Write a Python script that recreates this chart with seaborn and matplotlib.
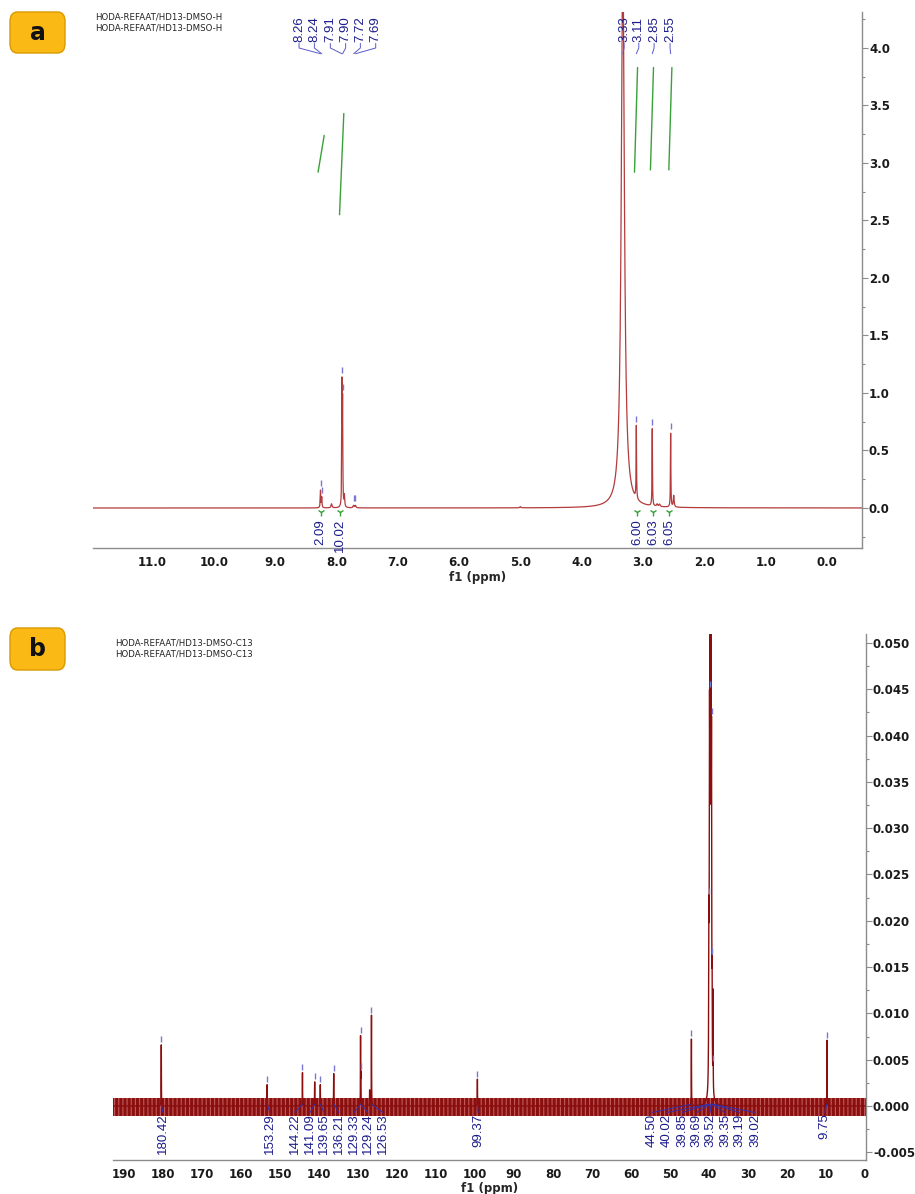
import matplotlib

matplotlib.use("Agg")
import matplotlib.pyplot as plt
import numpy as np
import pandas as pd
import seaborn as sns
from matplotlib.patches import FancyBboxPatch
from matplotlib.ticker import FormatStrFormatter, MultipleLocator


# ---- panel a : 1H NMR (DMSO) ----
h_peak_ppm = [8.26, 8.24, 8.08, 7.91, 7.90, 7.87, 7.72, 7.69, 5.00, 3.33, 3.11, 2.85, 2.77, 2.73, 2.55, 2.50]
h_peak_height = [0.15, 0.09, 0.035, 1.02, 0.85, 0.10, 0.02, 0.02, 0.01, 4.80, 0.63, 0.67, 0.02, 0.02, 0.64, 0.10]
h_peak_width = [0.005, 0.005, 0.01, 0.004, 0.004, 0.006, 0.01, 0.01, 0.01, 0.030, 0.004, 0.004, 0.01, 0.01, 0.004, 0.008]

h_pick_ppm = [8.26, 8.24, 7.91, 7.90, 7.72, 7.69, 3.33, 3.11, 2.85, 2.55]
h_pick_text = ["8.26", "8.24", "7.91", "7.90", "7.72", "7.69", "3.33", "3.11", "2.85", "2.55"]

h_int_text = ["2.09", "10.02", "6.00", "6.03", "6.05"]
h_int_ppm = [8.26, 7.95, 3.10, 2.84, 2.57]
h_int_x0 = [8.30, 7.95, 3.14, 2.88, 2.58]
h_int_x1 = [8.20, 7.88, 3.09, 2.83, 2.53]
h_int_y0 = [2.92, 2.55, 2.92, 2.94, 2.94]
h_int_y1 = [3.24, 3.43, 3.83, 3.83, 3.83]

# ---- panel b : 13C NMR (DMSO) ----
c_peak_ppm = [180.42, 153.29, 144.22, 141.09, 139.65, 136.21, 129.33, 129.24, 127.00, 126.53, 99.37,
              44.50, 40.02, 39.85, 39.69, 39.52, 39.35, 39.19, 38.95, 9.75]
c_peak_height = [0.0066, 0.0023, 0.0036, 0.0026, 0.0023, 0.0035, 0.0073, 0.0030, 0.0017, 0.0098, 0.0029,
                 0.0072, 0.016, 0.034, 0.056, 0.056, 0.033, 0.009, 0.0105, 0.0071]
c_peak_width = [0.03] * 11 + [0.03, 0.06, 0.06, 0.06, 0.06, 0.06, 0.04, 0.03, 0.03]

c_pick_ppm = [180.42, 153.29, 144.22, 141.09, 139.65, 136.21, 129.33, 129.24, 126.53, 99.37,
              44.50, 40.02, 39.85, 39.69, 39.52, 39.35, 39.19, 39.02, 9.75]
c_pick_text = ["180.42", "153.29", "144.22", "141.09", "139.65", "136.21", "129.33", "129.24", "126.53", "99.37",
               "44.50", "40.02", "39.85", "39.69", "39.52", "39.35", "39.19", "39.02", "9.75"]
c_noise_lo = -0.0011
c_noise_hi = 0.0009

# label layout (spread positions, ppm)
H_LABEL_POS = [8.61, 8.36, 8.10, 7.85, 7.61, 7.36, 3.31, 3.07, 2.82, 2.56]
C_LABEL_POS = [180.0, 152.6, 146.2, 142.3, 138.7, 134.9, 131.0, 127.4, 123.6, 99.2,
               54.6, 50.8, 46.9, 43.1, 39.7, 35.9, 32.1, 28.2, 10.3]

FIG_W, FIG_H = 915, 1194
NAVY = "#1c1c8c"
PICK = "#7878d0"
GREEN = "#3aa03a"
AXIS_GRAY = "#8c8c8c"


def lorentz(x, centers, heights, widths):
    y = np.zeros_like(x)
    for c, h, w in zip(centers, heights, widths):
        y += h * w * w / (w * w + (x - c) ** 2)
    return y


def style_axis(ax, major_x, minor_x, major_y, minor_y, xfmt, yfmt, xlabel_pad):
    for side in ["top", "left"]:
        ax.spines[side].set_visible(False)
    for side in ["bottom", "right"]:
        ax.spines[side].set_color(AXIS_GRAY)
        ax.spines[side].set_linewidth(1.0)
    ax.yaxis.tick_right()
    ax.xaxis.set_major_locator(MultipleLocator(major_x))
    ax.xaxis.set_minor_locator(MultipleLocator(minor_x))
    ax.yaxis.set_major_locator(MultipleLocator(major_y))
    ax.yaxis.set_minor_locator(MultipleLocator(minor_y))
    ax.xaxis.set_major_formatter(FormatStrFormatter(xfmt))
    ax.yaxis.set_major_formatter(FormatStrFormatter(yfmt))
    ax.tick_params(axis="both", which="both", direction="out", color=AXIS_GRAY, labelsize=8.5,
                   labelcolor="#1a1a1a", width=0.8)
    ax.tick_params(axis="both", which="major", length=4)
    ax.tick_params(axis="both", which="minor", length=2.5)
    ax.tick_params(axis="x", pad=2)
    ax.tick_params(axis="y", pad=1)
    for lab in ax.get_xticklabels() + ax.get_yticklabels():
        lab.set_fontweight("bold")
    ax.set_ylabel("")
    ax.set_xlabel("f1 (ppm)", fontsize=8.5, fontweight="bold", labelpad=xlabel_pad)
    ax.grid(False)


def badge(fig, letter, x0, y0, x1, y1):
    box = FancyBboxPatch((x0 / FIG_W, 1 - y1 / FIG_H), (x1 - x0) / FIG_W, (y1 - y0) / FIG_H,
                         boxstyle="round,pad=0,rounding_size=0.008", transform=fig.transFigure,
                         facecolor="#fbb916", edgecolor="#d99a00", linewidth=1.0)
    fig.patches.append(box)
    fig.text((x0 + x1) / 2 / FIG_W, 1 - (y0 + y1) / 2 / FIG_H, letter, fontsize=17, fontweight="bold",
             ha="center", va="center", color="#111111")


def main():
    sns.set_style("white")
    plt.rcParams["font.family"] = ["DejaVu Sans"]
    plt.rcParams["hatch.linewidth"] = 0.8

    fig = plt.figure(figsize=(FIG_W / 100, FIG_H / 100), dpi=100)

    # ---------------- panel a ----------------
    ax1 = fig.add_axes([93 / FIG_W, 1 - 548 / FIG_H, (862 - 93) / FIG_W, (548 - 12) / FIG_H])
    xh = np.arange(-0.6, 12.05, 0.0005)
    df_h = pd.DataFrame({"ppm": xh, "intensity": lorentz(xh, h_peak_ppm, h_peak_height, h_peak_width)})
    sns.lineplot(data=df_h, x="ppm", y="intensity", ax=ax1, color="#b33b3b", linewidth=0.9, estimator=None)
    ax1.set_xlim(11.97, -0.57)
    ax1.set_ylim(-0.348, 4.313)
    style_axis(ax1, 1.0, 0.25, 0.5, 0.25, "%.1f", "%.1f", 1.0)

    # integral curves
    for x0, x1, y0, y1 in zip(h_int_x0, h_int_x1, h_int_y0, h_int_y1):
        ax1.plot([x0, x1], [y0, y1], color=GREEN, linewidth=1.0)
    # integral labels under baseline
    for txt, p in zip(h_int_text, h_int_ppm):
        ax1.plot([p], [-0.035], marker="1", color=GREEN, markersize=6, clip_on=False)
        ax1.text(p, -0.095, txt, rotation=90, ha="center", va="top", color=NAVY, fontsize=9.5,
                 family="Liberation Sans", clip_on=False)

    # peak picks
    for p, txt, lp in zip(h_pick_ppm, h_pick_text, H_LABEL_POS):
        ytop = lorentz(np.array([p]), h_peak_ppm, h_peak_height, h_peak_width)[0]
        if ytop < 4.0:
            ax1.plot([p], [ytop + 0.06], marker="|", color=PICK, markersize=5)
        ax1.text(lp, 4.05, txt, rotation=90, ha="center", va="bottom", color=NAVY, fontsize=9.5,
                 family="Liberation Sans", clip_on=False)
        ax1.plot([lp, lp, p], [4.04, 4.0, 3.95], color="#5a5ac8", linewidth=0.7, clip_on=False)

    fig.text(95 / FIG_W, 1 - 17 / FIG_H, "HODA-REFAAT/HD13-DMSO-H", fontsize=6.2, va="center", color="#222222")
    fig.text(95 / FIG_W, 1 - 28 / FIG_H, "HODA-REFAAT/HD13-DMSO-H", fontsize=6.2, va="center", color="#222222")
    badge(fig, "a", 10, 12, 65, 53)

    # ---------------- panel b ----------------
    ax2 = fig.add_axes([113 / FIG_W, 1 - 1160 / FIG_H, (866 - 113) / FIG_W, (1160 - 634) / FIG_H])
    xc = np.arange(-0.3, 193.0, 0.01)
    ax2.fill_between([-0.3, 193.0], c_noise_lo, c_noise_hi, facecolor="#8a1010", edgecolor="#c25a5a",
                     hatch="||||", linewidth=0)
    df_c = pd.DataFrame({"ppm": xc, "intensity": lorentz(xc, c_peak_ppm, c_peak_height, c_peak_width)})
    sns.lineplot(data=df_c, x="ppm", y="intensity", ax=ax2, color="#8b0d0d", linewidth=1.0, estimator=None)
    ax2.set_xlim(192.8, -0.26)
    ax2.set_ylim(-0.00583, 0.05097)
    style_axis(ax2, 10, 2.5, 0.005, 0.0025, "%d", "%.3f", 0.5)

    for p, txt, lp in zip(c_pick_ppm, c_pick_text, C_LABEL_POS):
        ytop = lorentz(np.array([p]), c_peak_ppm, c_peak_height, c_peak_width)[0]
        if ytop < 0.045:
            ax2.plot([p], [ytop + 0.0006], marker="|", color=PICK, markersize=5)
        ax2.plot([lp, p], [-0.0007, 0.0002], color="#3030b0", linewidth=0.7)
        ax2.text(lp, -0.0008, txt, rotation=90, ha="center", va="top", color=NAVY, fontsize=9.5,
                 family="Liberation Sans")

    fig.text(115 / FIG_W, 1 - 643 / FIG_H, "HODA-REFAAT/HD13-DMSO-C13", fontsize=6.2, va="center", color="#222222")
    fig.text(115 / FIG_W, 1 - 654 / FIG_H, "HODA-REFAAT/HD13-DMSO-C13", fontsize=6.2, va="center", color="#222222")
    badge(fig, "b", 10, 628, 65, 670)

    fig.savefig("out.png", dpi=100)
    plt.close(fig)


if __name__ == "__main__":
    main()
